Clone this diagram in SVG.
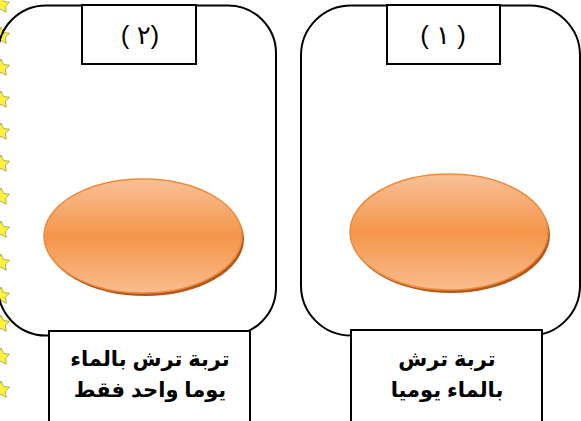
<svg xmlns="http://www.w3.org/2000/svg" width="581" height="421" viewBox="0 0 581 421">
<defs>
<linearGradient id="og" x1="0" y1="0" x2="0" y2="1">
<stop offset="0" stop-color="#F9C097"/>
<stop offset="0.5" stop-color="#F4964A"/>
<stop offset="1" stop-color="#F9BC8E"/>
</linearGradient>
<polygon id="star" points="0,-9 2.6,-3.4 8.6,-2.8 4.2,1.3 5.3,7.3 0,4.3 -5.3,7.3 -4.2,1.3 -8.6,-2.8 -2.6,-3.4" fill="#FFF23A" stroke="#9A9A4A" stroke-width="0.8"/>
</defs>
<style>
.frame{fill:none;stroke:#000;stroke-width:2}
.box{fill:#fff;stroke:#000;stroke-width:2}
.num{font-family:"Liberation Sans","DejaVu Sans",sans-serif;font-size:26px;fill:#000;text-anchor:middle}
.lbl{font-family:"Liberation Sans","DejaVu Sans",sans-serif;font-size:21px;font-weight:bold;fill:#000;text-anchor:middle}
</style>
<rect width="581" height="421" fill="#fff"/>
<g id="stars">
<use href="#star" x="1" y="5"/>
<use href="#star" x="1" y="36"/>
<use href="#star" x="1" y="68"/>
<use href="#star" x="1" y="100"/>
<use href="#star" x="1" y="132"/>
<use href="#star" x="1" y="164"/>
<use href="#star" x="1" y="197"/>
<use href="#star" x="1" y="230"/>
<use href="#star" x="1" y="263"/>
<use href="#star" x="1" y="296"/>
<use href="#star" x="1" y="324"/>
<use href="#star" x="1" y="357"/>
<use href="#star" x="1" y="390"/>
</g>
<g id="panel2">
<rect class="frame" x="-2" y="5.5" width="278" height="330" rx="48"/>
</g>
<g id="panel1">
<rect class="frame" x="301" y="5.5" width="279" height="330" rx="50"/>
</g>
<g id="title2">
<rect class="box" x="82" y="5" width="114" height="59"/>
<text class="num" x="140" y="44">( ٢)</text>
</g>
<g id="title1">
<rect class="box" x="387" y="5" width="113" height="59"/>
<text class="num" x="443" y="44">( ١ )</text>
</g>
<g id="soil2">
<ellipse cx="145" cy="239" rx="99" ry="57" fill="#B5561A"/>
<ellipse cx="143" cy="236" rx="99" ry="57" fill="url(#og)" stroke="#EE8A3C" stroke-width="1.5"/>
</g>
<g id="soil1">
<ellipse cx="451" cy="235" rx="99" ry="58" fill="#B5561A"/>
<ellipse cx="449" cy="232" rx="99" ry="58" fill="url(#og)" stroke="#EE8A3C" stroke-width="1.5"/>
</g>
<g id="label2">
<rect class="box" x="49" y="331" width="201" height="95"/>
<text class="lbl" x="150" y="366" direction="rtl">تربة ترش بالماء</text>
<text class="lbl" x="150" y="397" direction="rtl">يوما واحد فقط</text>
</g>
<g id="label1">
<rect class="box" x="351" y="330" width="191" height="95"/>
<text class="lbl" x="447" y="366" direction="rtl">تربة ترش</text>
<text class="lbl" x="447" y="397" direction="rtl">بالماء يوميا</text>
</g>
<g id="connectors"></g>
</svg>
